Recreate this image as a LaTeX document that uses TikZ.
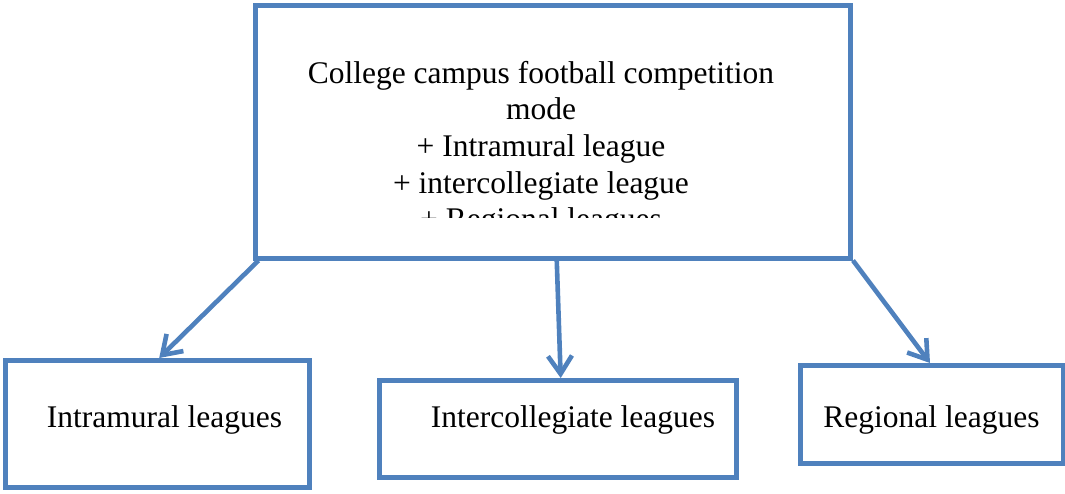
\documentclass[tikz,border=0pt]{standalone}
\usepackage{fontspec}
\setmainfont{Liberation Serif}
\usepackage{tikz}
\usetikzlibrary{shapes}
\usetikzlibrary{arrows.meta}
\usetikzlibrary{positioning}
\definecolor{bleu}{HTML}{4F81BD}
\tikzstyle{cadre}=[
        draw=bleu,
        rectangle,
        line width=5pt,
        inner sep=0pt
]
\tikzstyle{texte}=[text=black,inner sep=0pt,font=\fontsize{31.5pt}{36.7pt}\selectfont]
\tikzstyle{fleche}=[->,>={Straight Barb[length=18pt,width=24pt]},draw=bleu,line width=4.6pt]

\begin{document}
\begin{tikzpicture}[x=1pt,y=-1pt]
\useasboundingbox (0,0) rectangle (1065,493);
\node[cadre,minimum width=595.5pt,minimum height=253pt] (mode) at (552.75,131.5) {};
\node[cadre,minimum width=303.7pt,minimum height=127pt] (intra) at (157.2,424) {};
\node[cadre,minimum width=357.5pt,minimum height=97pt] (inter) at (558.2,429) {};
\node[cadre,minimum width=263pt,minimum height=98pt] (region) at (931.5,414.5) {};
%Textes
\begin{scope}
\clip (255,5) rectangle (850,217);
\node[texte,align=center,anchor=base] (modetexte) at (541,229.8) {College campus football competition\\mode\\+ Intramural league\\+ intercollegiate league\\+ Regional leagues};
\end{scope}
\node[texte,anchor=base] (intratexte) at (164.5,427) {Intramural leagues};
\node[texte,anchor=base] (intertexte) at (573,427) {Intercollegiate leagues};
\node[texte,anchor=base] (regiontexte) at (931.5,427) {Regional leagues};
%Fleches
\draw[fleche] ([xshift=6pt]mode.south west) -- ([xshift=2pt]intra.north);
\draw[fleche] ([xshift=4pt]mode.south) -- ([xshift=2.5pt]inter.north);
\draw[fleche] (mode.south east) -- ([xshift=-1.5pt]region.north);
\end{tikzpicture}
\end{document}
